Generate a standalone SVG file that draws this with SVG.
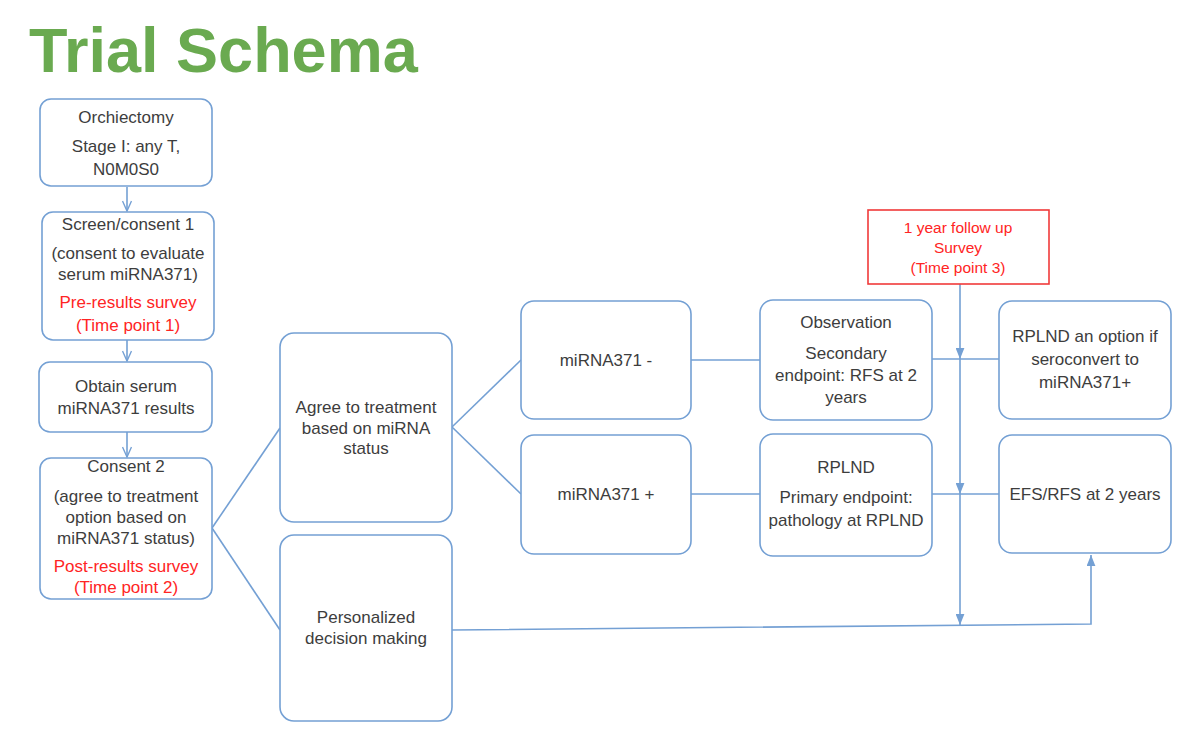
<svg xmlns="http://www.w3.org/2000/svg" width="1200" height="746" viewBox="0 0 1200 746">
<defs>
<style>
.box{fill:#ffffff;stroke:#74a0d4;stroke-width:1.6}
.red{fill:#ffffff;stroke:#f03a3a;stroke-width:1.6}
.ln{fill:none;stroke:#74a0d4;stroke-width:1.6}
.t{font-family:"Liberation Sans",Arial,sans-serif;font-size:17px;fill:#3d3d3d;text-anchor:middle}
.r{fill:#ff2424}
.s{font-size:15.5px}
.title{font-family:"Liberation Sans",Arial,sans-serif;font-size:63px;font-weight:bold;fill:#6aaa50}
</style>
<marker id="open" viewBox="0 0 12 10" refX="11" refY="5" markerWidth="12" markerHeight="10" markerUnits="userSpaceOnUse" orient="auto">
<path d="M1,0.5 L11,5 L1,9.5" fill="none" stroke="#74a0d4" stroke-width="1.4"/>
</marker>
<marker id="tri" viewBox="0 0 10 8" refX="10" refY="4" markerWidth="11" markerHeight="9" markerUnits="userSpaceOnUse" orient="auto">
<path d="M0,0 L10,4 L0,8 Z" fill="#74a0d4"/>
</marker>
</defs>
<rect width="1200" height="746" fill="#ffffff"/>
<text class="title" x="29" y="72">Trial Schema</text>

<g id="connectors">
<line class="ln" x1="127" y1="187" x2="127" y2="211" marker-end="url(#open)"/>
<line class="ln" x1="127" y1="340" x2="127" y2="361" marker-end="url(#open)"/>
<line class="ln" x1="127" y1="432" x2="127" y2="457" marker-end="url(#open)"/>
<line class="ln" x1="212" y1="528" x2="280" y2="428"/>
<line class="ln" x1="212" y1="528" x2="280" y2="630"/>
<line class="ln" x1="452" y1="427" x2="521" y2="360"/>
<line class="ln" x1="452" y1="427" x2="521" y2="494"/>
<line class="ln" x1="691" y1="360" x2="760" y2="360"/>
<line class="ln" x1="691" y1="494" x2="760" y2="494"/>
<line class="ln" x1="932" y1="359" x2="999" y2="359"/>
<line class="ln" x1="932" y1="494" x2="999" y2="494"/>
<line class="ln" x1="960" y1="284" x2="960" y2="359" marker-end="url(#tri)"/>
<line class="ln" x1="960" y1="359" x2="960" y2="494" marker-end="url(#tri)"/>
<line class="ln" x1="960" y1="494" x2="960" y2="625" marker-end="url(#tri)"/>
<polyline class="ln" points="452,630 1091,624 1091,555" marker-end="url(#tri)"/>
</g>

<g id="orchiectomy">
<rect class="box" x="40" y="99" width="172" height="87" rx="11"/>
<text class="t" x="126" y="123">Orchiectomy</text>
<text class="t" x="126" y="152">Stage I: any T,</text>
<text class="t" x="126" y="175">N0M0S0</text>
</g>

<g id="screen">
<rect class="box" x="42" y="212" width="172" height="128" rx="11"/>
<text class="t" x="128" y="230">Screen/consent 1</text>
<text class="t" x="128" y="259">(consent to evaluate</text>
<text class="t" x="128" y="280">serum miRNA371)</text>
<text class="t r" x="128" y="308">Pre-results survey</text>
<text class="t r" x="128" y="331">(Time point 1)</text>
</g>

<g id="obtain">
<rect class="box" x="39" y="362" width="173" height="70" rx="11"/>
<text class="t" x="126" y="392">Obtain serum</text>
<text class="t" x="126" y="414">miRNA371 results</text>
</g>

<g id="consent2">
<rect class="box" x="40" y="458" width="172" height="141" rx="11"/>
<text class="t" x="126" y="472">Consent 2</text>
<text class="t" x="126" y="502">(agree to treatment</text>
<text class="t" x="126" y="523">option based on</text>
<text class="t" x="126" y="544">miRNA371 status)</text>
<text class="t r" x="126" y="572">Post-results survey</text>
<text class="t r" x="126" y="593">(Time point 2)</text>
</g>

<g id="agree">
<rect class="box" x="280" y="333" width="172" height="189" rx="14"/>
<text class="t" x="366" y="413">Agree to treatment</text>
<text class="t" x="366" y="434">based on miRNA</text>
<text class="t" x="366" y="454">status</text>
</g>

<g id="personalized">
<rect class="box" x="280" y="535" width="172" height="186" rx="14"/>
<text class="t" x="366" y="623">Personalized</text>
<text class="t" x="366" y="644">decision making</text>
</g>

<g id="mirna-neg">
<rect class="box" x="521" y="301" width="170" height="118" rx="13"/>
<text class="t" x="606" y="366">miRNA371 -</text>
</g>

<g id="mirna-pos">
<rect class="box" x="521" y="435" width="170" height="119" rx="13"/>
<text class="t" x="606" y="500">miRNA371 +</text>
</g>

<g id="observation">
<rect class="box" x="760" y="300" width="172" height="120" rx="13"/>
<text class="t" x="846" y="328">Observation</text>
<text class="t" x="846" y="359">Secondary</text>
<text class="t" x="846" y="381">endpoint: RFS at 2</text>
<text class="t" x="846" y="403">years</text>
</g>

<g id="rplnd">
<rect class="box" x="760" y="434" width="172" height="122" rx="13"/>
<text class="t" x="846" y="473">RPLND</text>
<text class="t" x="846" y="503">Primary endpoint:</text>
<text class="t" x="846" y="526">pathology at RPLND</text>
</g>

<g id="survey">
<rect class="red" x="868" y="210" width="181" height="74"/>
<text class="t r s" x="958" y="233">1 year follow up</text>
<text class="t r s" x="958" y="253">Survey</text>
<text class="t r s" x="958" y="273">(Time point 3)</text>
</g>

<g id="rplnd-option">
<rect class="box" x="999" y="301" width="172" height="118" rx="13"/>
<text class="t" x="1085" y="342">RPLND an option if</text>
<text class="t" x="1085" y="365">seroconvert to</text>
<text class="t" x="1085" y="388">miRNA371+</text>
</g>

<g id="efs">
<rect class="box" x="999" y="435" width="172" height="118" rx="13"/>
<text class="t" x="1085" y="500">EFS/RFS at 2 years</text>
</g>
</svg>
